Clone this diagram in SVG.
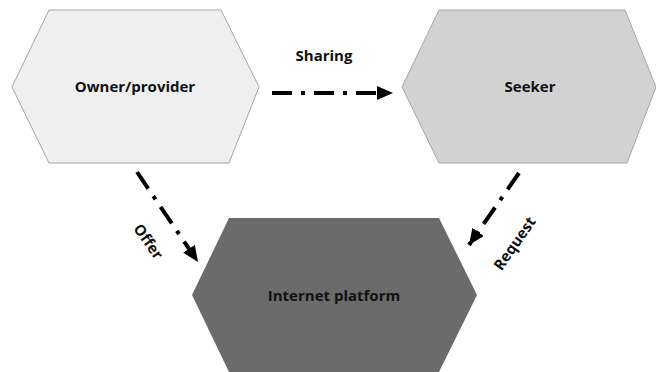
<svg xmlns="http://www.w3.org/2000/svg" width="656" height="372" viewBox="0 0 656 372">
<style>
.hex{stroke:#a6a6a6;stroke-width:1}
.lbl{font-family:"Open Sans","Liberation Sans",sans-serif;font-weight:bold;font-size:15px;fill:#111;text-anchor:middle;dominant-baseline:central}
.con{stroke:#000;stroke-width:4;fill:none;stroke-dasharray:20 9 4 9}
</style>
<defs>
<marker id="ah" viewBox="0 0 16 14" refX="16" refY="7" markerWidth="16" markerHeight="14" markerUnits="userSpaceOnUse" orient="auto">
<path d="M0,0 L16,7 L0,14 Z" fill="#000"/>
</marker>
</defs>
<rect width="656" height="372" fill="#fff"/>
<g id="owner">
<polygon class="hex" points="49,10 221,10 259,87 229,163 49,163 12,87" fill="#efefef"/>
<text class="lbl" x="135" y="86">Owner/provider</text>
</g>
<g id="seeker">
<polygon class="hex" points="439,10 625,10 656,87 627,163 439,163 402,87" fill="#d2d2d2"/>
<text class="lbl" x="530" y="86">Seeker</text>
</g>
<g id="platform">
<polygon points="229,218 439,218 477,295 439,372 229,372 192,295" fill="#6b6b6b"/>
<text class="lbl" x="334" y="295">Internet platform</text>
</g>
<g id="connectors">
<line class="con" x1="272" y1="93" x2="393" y2="93" marker-end="url(#ah)"/>
<text class="lbl" x="324" y="55" font-size="14">Sharing</text>
<line class="con" x1="137" y1="172" x2="198" y2="262" marker-end="url(#ah)"/>
<text class="lbl" transform="translate(149,241) rotate(55)">Offer</text>
<line class="con" x1="519" y1="173" x2="469" y2="245" marker-end="url(#ah)"/>
<text class="lbl" transform="translate(514,243) rotate(-55)">Request</text>
</g>
</svg>
